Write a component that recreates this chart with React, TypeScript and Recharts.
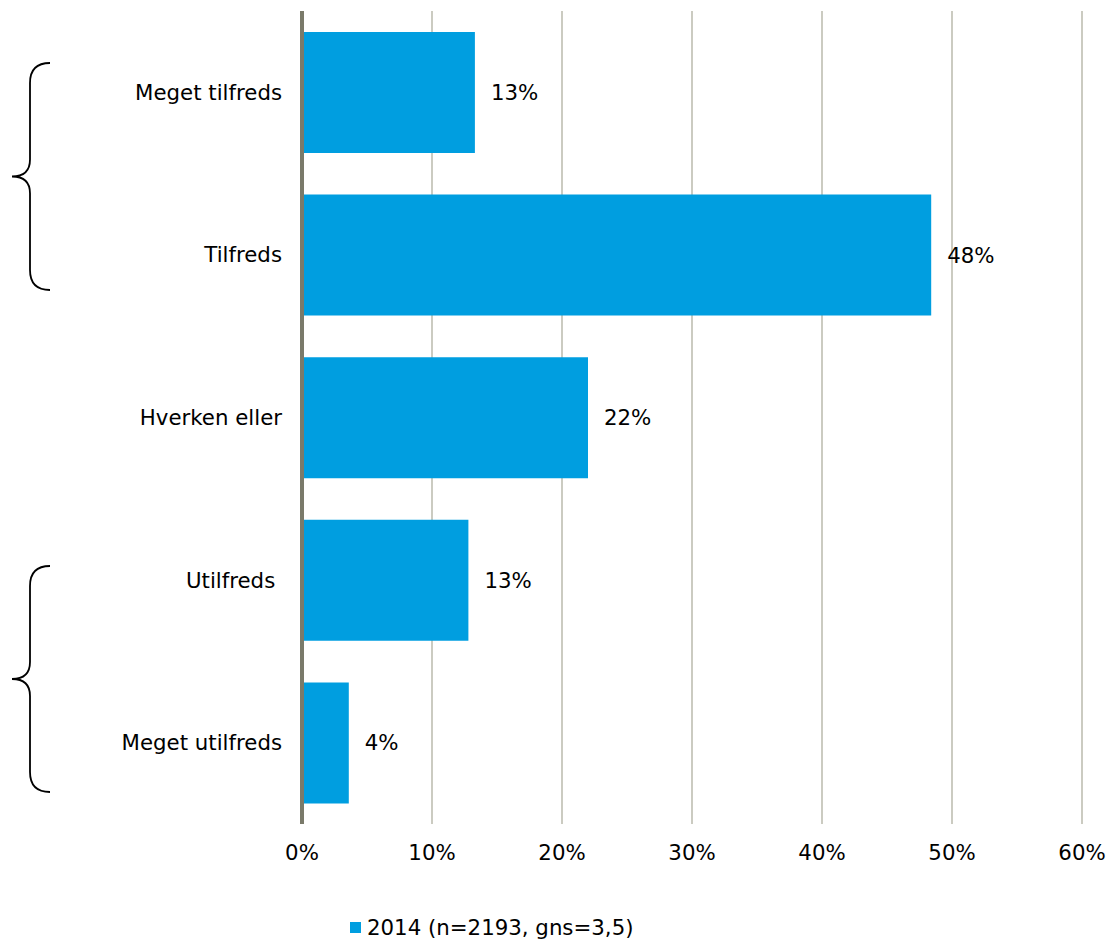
import React from 'react';
import { BarChart, Bar, XAxis, YAxis, CartesianGrid, LabelList, Customized } from 'recharts';

const categories = ['Meget tilfreds', 'Tilfreds', 'Hverken eller', 'Utilfreds\u00a0', 'Meget utilfreds'];
const values2014 = [13.3, 48.4, 22.0, 12.8, 3.6];
const valueLabels = ['13%', '48%', '22%', '13%', '4%'];
const xTicks = [0, 10, 20, 30, 40, 50, 60];
const seriesName = '2014 (n=2193, gns=3,5)';

const data = categories.map((name, i) => ({
  name,
  value: values2014[i],
  label: valueLabels[i],
}));

const FONT = '"DejaVu Sans", Verdana, sans-serif';
const FONT_SIZE = 21.3;
const BAR_COLOR = '#009ee0';

// curly braces grouping the satisfied / dissatisfied answers
function Braces() {
  const brace = (top: number, bottom: number) => {
    const mid = (top + bottom) / 2;
    return `M50,${top} Q30,${top} 30,${top + 20} L30,${mid - 17} Q30,${mid} 12,${mid} Q30,${mid} 30,${mid + 17} L30,${bottom - 20} Q30,${bottom} 50,${bottom}`;
  };
  return (
    <g fill="none" stroke="#000" strokeWidth={1.8}>
      <path d={brace(63, 290)} />
      <path d={brace(566, 792)} />
    </g>
  );
}

export default function App() {
  return (
    <div style={{ position: 'absolute', left: 0, top: 0, width: 1110, height: 940, background: '#fff', fontFamily: FONT }}>
      <BarChart
        width={1110}
        height={940}
        data={data}
        layout="vertical"
        margin={{ top: 11, right: 28, bottom: 56, left: 0 }}
        barCategoryGap={21}
      >
        <CartesianGrid horizontal={false} vertical stroke="#a8a898" strokeWidth={1.2} />
        <XAxis
          type="number"
          domain={[0, 60]}
          ticks={xTicks}
          tickFormatter={(v) => `${v}%`}
          axisLine={false}
          tickLine={false}
          tickSize={0}
          tickMargin={21}
          height={60}
          tick={{ fill: '#000', fontSize: FONT_SIZE, fontFamily: FONT }}
        />
        <YAxis
          type="category"
          dataKey="name"
          width={302}
          tickLine={false}
          tickSize={0}
          tickMargin={20}
          axisLine={{ stroke: '#7a7a6a', strokeWidth: 4 }}
          tick={{ fill: '#000', fontSize: FONT_SIZE, fontFamily: FONT }}
        />
        <Bar dataKey="value" fill={BAR_COLOR} isAnimationActive={false}>
          <LabelList
            dataKey="label"
            position="right"
            offset={16}
            fill="#000"
            fontSize={FONT_SIZE}
            fontFamily={FONT}
          />
        </Bar>
        <Customized component={Braces} />
      </BarChart>
      <div
        style={{
          position: 'absolute',
          left: 350,
          top: 915,
          display: 'flex',
          alignItems: 'center',
          fontSize: FONT_SIZE,
          color: '#000',
        }}
      >
        <span style={{ width: 11, height: 11, background: BAR_COLOR, display: 'inline-block', marginRight: 6 }} />
        <span>{seriesName}</span>
      </div>
    </div>
  );
}
